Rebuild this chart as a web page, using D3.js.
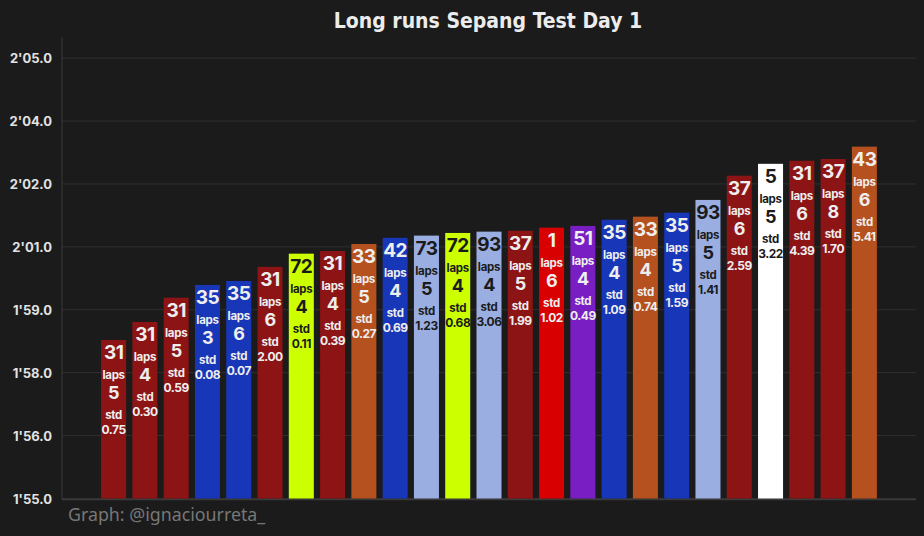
<!DOCTYPE html>
<html>
<head>
<meta charset="utf-8">
<style>
  html, body { margin: 0; padding: 0; background: #1b1b1b; }
  svg { display: block; }
</style>
</head>
<body>
<script src="https://cdn.jsdelivr.net/npm/d3@7"></script>
<script>
// driver numbers, in bar order
var drivers = [31, 31, 31, 35, 35, 31, 72, 31, 33, 42, 73, 72, 93, 37, 1, 51, 35, 33, 35, 93, 37, 5, 31, 37, 43];
// average long-run lap time, seconds
var times = [118.60, 119.01, 119.56, 119.85, 119.94, 120.26, 120.56, 120.62, 120.78, 120.92, 120.97, 121.03, 121.06,
             121.08, 121.15, 121.19, 121.33, 121.40, 121.49, 121.78, 122.33, 122.60, 122.67, 122.71, 122.99];
var laps = [5, 4, 5, 3, 6, 6, 4, 4, 5, 4, 5, 4, 4, 5, 6, 4, 4, 4, 5, 5, 6, 5, 6, 8, 6];
var stds = ["0.75", "0.30", "0.59", "0.08", "0.07", "2.00", "0.11", "0.39", "0.27", "0.69", "1.23", "0.68", "3.06",
            "1.99", "1.02", "0.49", "1.09", "0.74", "1.59", "1.41", "2.59", "3.22", "4.39", "1.70", "5.41"];

var teamColor = {31: "#8d1414", 37: "#8d1414", 35: "#1836b8", 42: "#1836b8", 72: "#ccff00",
                 33: "#b4511f", 43: "#b4511f", 73: "#9aaee2", 93: "#9aaee2", 1: "#d80000", 51: "#781ec3", 5: "#ffffff"};
var darkText = [72, 73, 93, 5];

var W = 924, H = 536;
var svg = d3.select("body").append("svg").attr("width", W).attr("height", H);
svg.append("rect").attr("width", W).attr("height", H).attr("fill", "#1b1b1b");

var pLeft = 62, pRight = 916, pTop = 37, pBottom = 498.5;

var x = d3.scaleBand()
  .domain(d3.range(drivers.length))
  .range([pLeft, pRight])
  .paddingInner(0.2)
  .paddingOuter(1.25);

var y = d3.scaleLinear().domain([115, 125.48]).range([pBottom, pTop]);

// ticks: 8 evenly spaced values between 1'55 and 2'05, labelled to the whole second
var ticks = d3.range(8).map(function(k) { return 115 + k * 10 / 7; });
function fmt(v) {
  var s = Math.round(v);
  var m = Math.floor(s / 60);
  var r = s - m * 60;
  return m + "'" + (r < 10 ? "0" : "") + r + ".0";
}

svg.append("g")
  .selectAll("line").data(ticks).enter().append("line")
  .attr("x1", pLeft).attr("x2", pRight)
  .attr("y1", function(d) { return y(d); })
  .attr("y2", function(d) { return y(d); })
  .attr("stroke", "#303030").attr("stroke-width", 1);

svg.append("line").attr("x1", pLeft).attr("x2", pLeft).attr("y1", pTop).attr("y2", pBottom + 1)
  .attr("stroke", "#3a3a3a");
svg.append("line").attr("x1", pLeft).attr("x2", pRight).attr("y1", pBottom + 1).attr("y2", pBottom + 1)
  .attr("stroke", "#3a3a3a").attr("stroke-width", 1.5);

svg.append("g")
  .selectAll("text").data(ticks).enter().append("text")
  .attr("x", 52)
  .attr("y", function(d) { return y(d) + 5; })
  .attr("text-anchor", "end")
  .attr("fill", "#e2e2e2")
  .style("font", "bold 13px Inter")
  .text(fmt);

var idx = d3.range(drivers.length);

svg.append("g")
  .selectAll("rect").data(idx).enter().append("rect")
  .attr("x", function(i) { return x(i); })
  .attr("width", x.bandwidth())
  .attr("y", function(i) { return y(times[i]); })
  .attr("height", function(i) { return y(115) - y(times[i]); })
  .attr("fill", function(i) { return teamColor[drivers[i]]; });

var lbl = svg.append("g").attr("text-anchor", "middle").style("font-family", "Inter").style("font-weight", "bold");
idx.forEach(function(i) {
  var cx = x(i) + x.bandwidth() / 2;
  var t = y(times[i]);
  var c = darkText.indexOf(drivers[i]) >= 0 ? "#1b1b1b" : "#eeeeee";
  var rows = [
    [drivers[i], 19, 19],
    ["laps", 39, 11.5],
    [laps[i], 59, 18],
    ["std", 79, 11.5],
    [stds[i], 94, 12]
  ];
  rows.forEach(function(r) {
    lbl.append("text").attr("x", cx).attr("y", t + r[1])
      .attr("fill", c).style("font-size", r[2] + "px")
      .attr("letter-spacing", r[0] === "laps" || r[0] === "std" ? "-0.3" : "-0.5")
      .text(r[0]);
  });
});

svg.append("text")
  .attr("x", 488).attr("y", 28)
  .attr("text-anchor", "middle")
  .attr("fill", "#ececec")
  .style("font-family", "'DejaVu Sans'")
  .style("font-stretch", "condensed")
  .style("font-weight", "bold")
  .style("font-size", "21px")
  .text("Long runs Sepang Test Day 1");

svg.append("text")
  .attr("x", 68).attr("y", 521)
  .attr("fill", "#777777")
  .style("font", "17.8px 'Noto Sans'")
  .text("Graph: @ignaciourreta_");
</script>
</body>
</html>
